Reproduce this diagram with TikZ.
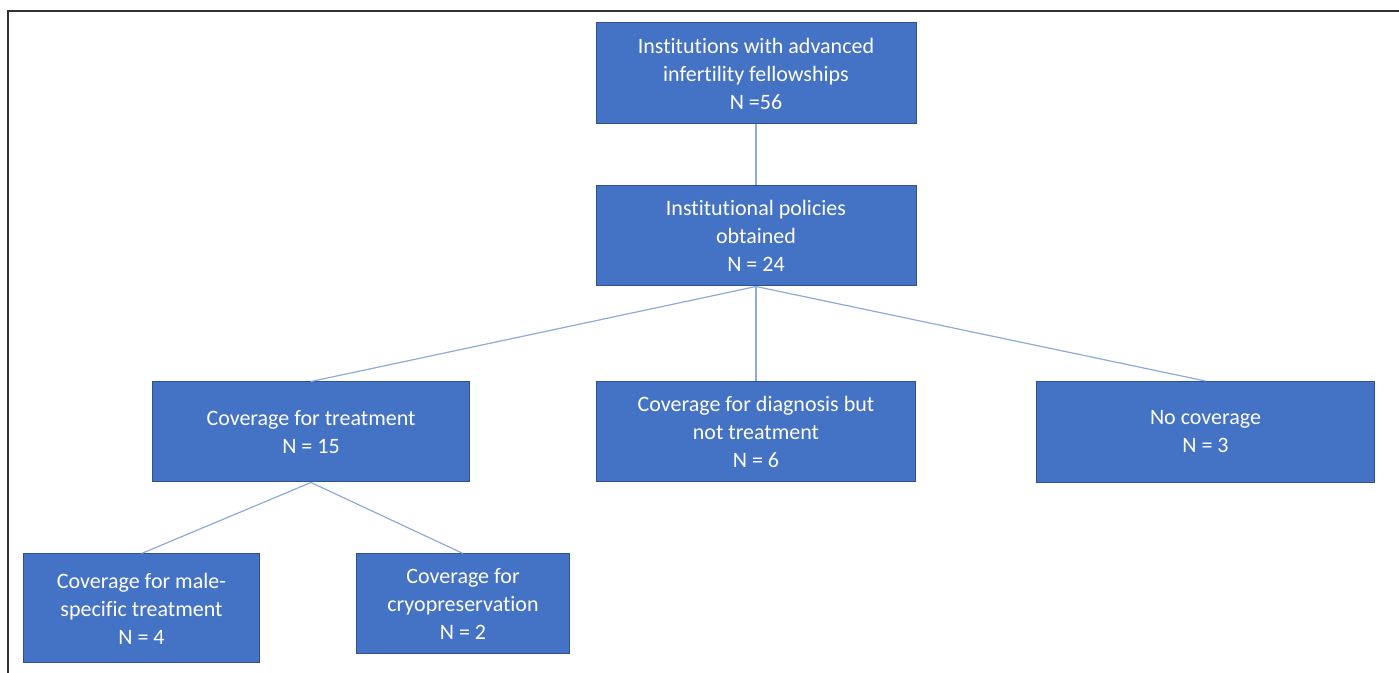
\documentclass[tikz,border=0pt]{standalone}
\usepackage{fontspec}
\setmainfont{Carlito}[Ligatures=NoCommon]
\usetikzlibrary{positioning}
\definecolor{boxblue}{HTML}{4472C4}
\definecolor{boxedge}{HTML}{2F528F}
\definecolor{linkblue}{HTML}{8FAADC}

\begin{document}
\begin{tikzpicture}[x=0.5pt, y=-0.5pt,
	every node/.style={draw=boxedge, line width=0.5pt, fill=boxblue, text=white, align=center, inner sep=2pt, font=\fontsize{11}{14}\selectfont},
	link/.style={draw=linkblue, line width=0.6pt},
	node distance=30.5pt]
	\useasboundingbox (0,0) rectangle (1399,673);
	\draw[line width=0.6pt, black!80] (8,673) |- (1399,11);
	\node[minimum width=160pt, minimum height=50.5pt] (inst) at (756,73.5) {Institutions with advanced\\infertility fellowships\\N =56};
	\node[below=of inst, minimum width=160pt, minimum height=50pt] (pol) {Institutional policies\\obtained\\N = 24};
	\node[below=47.5pt of pol, minimum width=159.5pt, minimum height=50pt] (diag) {Coverage for diagnosis but\\not treatment\\N = 6};
	\node[left=63pt of diag, minimum width=158.5pt, minimum height=50pt] (treat) {Coverage for treatment\\N = 15};
	\node[right=60pt of diag, minimum width=169pt, minimum height=50.5pt] (none) {No coverage\\N = 3};
	\node[below=35.5pt of treat, xshift=-84.75pt, minimum width=118pt, minimum height=54.5pt] (male) {Coverage for male-\\specific treatment\\N = 4};
	\node[below=35.5pt of treat, xshift=76pt, minimum width=106.5pt, minimum height=50pt] (cryo) {Coverage for\\cryopreservation\\N = 2};
	\draw[link] (inst) -- (pol);
	\draw[link] (pol.south) -- (treat.north);
	\draw[link] (pol.south) -- (diag.north);
	\draw[link] (pol.south) -- (none.north);
	\draw[link] (treat.south) -- (male.north);
	\draw[link] (treat.south) -- (cryo.north);
\end{tikzpicture}
\end{document}
